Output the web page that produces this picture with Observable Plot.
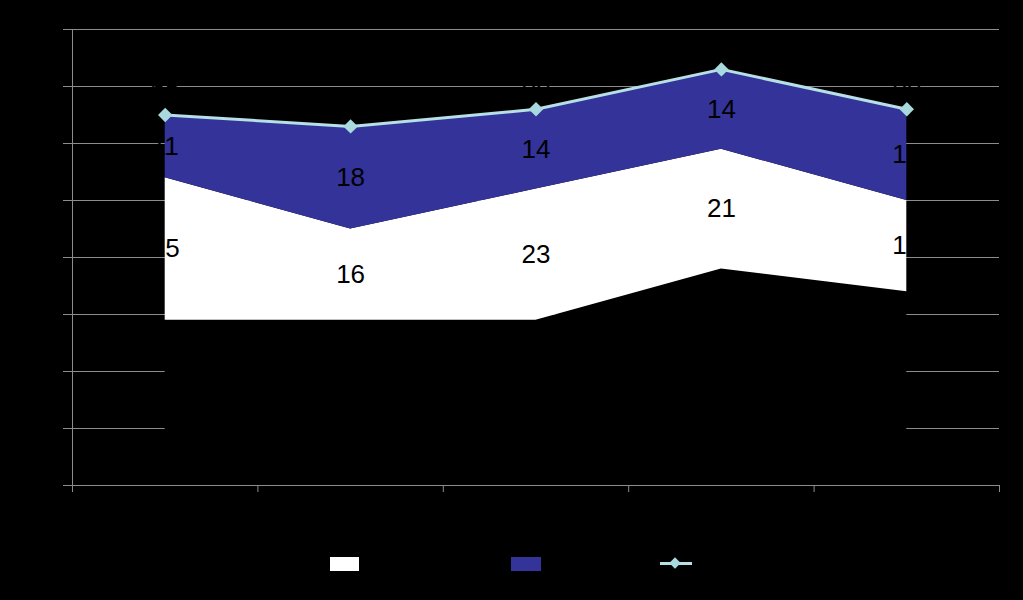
<!DOCTYPE html>
<html><head><meta charset="utf-8">
<script src="https://cdn.jsdelivr.net/npm/d3@7"></script>
<script src="https://cdn.jsdelivr.net/npm/@observablehq/plot@0.6"></script>
<style>
html,body{margin:0;padding:0;background:#000;}
#wrap{position:relative;width:1023px;height:600px;background:#000;font-family:"Liberation Sans",Arial,sans-serif;overflow:hidden;}
#wrap svg{display:block;}
.sw{position:absolute;}
</style></head><body><div id="wrap"></div>
<script>
// Category positions (labels are black on black in the reference, unreadable)
const categories = [0, 1, 2, 3, 4];
const seriesKeys = ["base", "white", "blue"];
const baseValues  = [29, 29, 29, 38, 34];
const whiteValues = [25, 16, 23, 21, 16];
const blueValues  = [11, 18, 14, 14, 16];
const totalValues = [65, 63, 66, 73, 66];
const yTicks = [0, 10, 20, 30, 40, 50, 60, 70, 80];
const xBoundaries = [-0.5, 0.5, 1.5, 2.5, 3.5, 4.5];

const valuesBySeries = {base: baseValues, white: whiteValues, blue: blueValues};
const rows = categories.flatMap((c, i) => seriesKeys.map(s => ({i: c, s, v: valuesBySeries[s][i]})));

// label rows at band midpoints (data space)
const labelRows = [];
categories.forEach((c, i) => {
  let acc = 0;
  seriesKeys.forEach(s => {
    const v = valuesBySeries[s][i];
    labelRows.push({i: c, s, v, mid: acc + v / 2});
    acc += v;
  });
});
const totalRows = categories.map((c, i) => ({i: c, v: totalValues[i]}));

const grid = "#8c8c8c";
const chart = Plot.plot({
  width: 1023, height: 600,
  marginLeft: 72, marginRight: 24, marginTop: 29, marginBottom: 115,
  style: {background: "#000", fontFamily: "Liberation Sans, Arial, sans-serif"},
  x: {domain: [-0.5, 4.5], axis: null},
  y: {domain: [0, 80], axis: null},
  color: {domain: seriesKeys, range: ["#000000", "#ffffff", "#333399"]},
  marks: [
    Plot.ruleY(yTicks.slice(1), {stroke: grid, strokeWidth: 1}),
    Plot.areaY(rows, Plot.stackY({x: "i", y: "v", z: "s", fill: "s", order: seriesKeys})),
    Plot.ruleY([0], {stroke: grid}),
    Plot.ruleX([-0.5], {stroke: grid}),
    Plot.axisY(yTicks, {tickSize: 9, stroke: grid, fill: "#000", fontSize: 14, label: null}),
    Plot.axisX(xBoundaries, {tickSize: 7, stroke: grid, tickFormat: () => "", label: null}),
    Plot.text(labelRows, {x: "i", y: "mid", text: d => String(d.v), fill: "#000", fontSize: 26, lineAnchor: "middle"}),
    Plot.line(totalRows, {x: "i", y: "v", stroke: "#b6dfe6", strokeWidth: 3}),
    Plot.dot(totalRows, {x: "i", y: "v", symbol: "diamond2", r: 6.5, fill: "#a9d9de", stroke: "none"}),
    Plot.text(totalRows, {x: "i", y: "v", text: d => String(d.v), fill: "#000", fontSize: 26, dy: -26, lineAnchor: "middle"})
  ]
});
const wrap = document.getElementById("wrap");
wrap.appendChild(chart);

// legend (text is black on black in the reference)
function sw(css) { const d = document.createElement("div"); d.className = "sw"; Object.assign(d.style, css); wrap.appendChild(d); }
sw({left: "330px", top: "557px", width: "29px", height: "14px", background: "#ffffff"});
sw({left: "511px", top: "557px", width: "30px", height: "14px", background: "#333399"});
sw({left: "660px", top: "562px", width: "32px", height: "3px", background: "#b6dfe6"});
sw({left: "671px", top: "559px", width: "8px", height: "8px", background: "#a9d9de", transform: "rotate(45deg)"});
</script></body></html>
